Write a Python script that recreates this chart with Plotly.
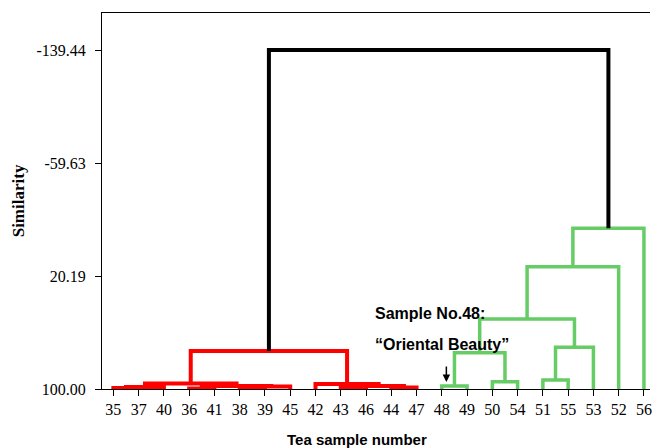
import plotly.graph_objects as go

# ---------------- data ----------------
leaf_labels = ["35", "37", "40", "36", "41", "38", "39", "45", "42", "43", "46",
               "44", "47", "48", "49", "50", "54", "51", "55", "53", "52", "56"]

# merges (children may be leaf labels or earlier merge ids "m<k>")
link_left = ["35", "m0", "36", "38", "m3", "m2", "m1", "43", "44", "m7", "42", "m6",
             "48", "50", "m12", "51", "m15", "m14", "m17", "m18", "m11"]
link_right = ["37", "40", "41", "39", "45", "m4", "m5", "46", "47", "m8", "m9", "m10",
              "49", "54", "m13", "55", "53", "m16", "52", "56", "m19"]
link_height = [99.3, 98.6, 99.6, 99.3, 98.2, 97.9, 96.1, 99.3, 98.9, 97.9, 96.5, 73.2,
               97.9, 94.8, 74.4, 93.6, 70.5, 50.6, 13.6, -13.5, -139.44]
link_group = ["red"] * 12 + ["green"] * 8 + ["root"]

y_tick_vals = [100.00, 20.19, -59.63, -139.44]
y_tick_text = ["100.00", "20.19", "-59.63", "-139.44"]

# ---------------- styles ----------------
group_color = {"red": "#ff0000", "green": "#66cc66", "root": "#000000"}
group_width = {"red": 4, "green": 3.5, "root": 4}
SERIF = "Liberation Serif"
SANS = "Liberation Sans"

# ---------------- build dendrogram geometry ----------------
node_x = {lab: i for i, lab in enumerate(leaf_labels)}
node_h = {lab: 100.0 for lab in leaf_labels}

fig = go.Figure()
for k, (a, b, h, g) in enumerate(zip(link_left, link_right, link_height, link_group)):
    xa, xb = node_x[a], node_x[b]
    ha, hb = node_h[a], node_h[b]
    fig.add_trace(go.Scatter(
        x=[xa, xa, xb, xb], y=[ha, h, h, hb], mode="lines",
        line=dict(color=group_color[g], width=group_width[g]),
        hoverinfo="skip", showlegend=False))
    mid = f"m{k}"
    node_x[mid] = (xa + xb) / 2
    node_h[mid] = h

n = len(leaf_labels)
fig.update_layout(
    width=652, height=448,
    margin=dict(l=102, r=0, t=13, b=59),
    plot_bgcolor="white", paper_bgcolor="white",
    showlegend=False,
)
fig.update_xaxes(
    range=[-0.45, n - 1 + 0.24],
    tickvals=list(range(n)), ticktext=leaf_labels,
    showgrid=False, zeroline=False,
    showline=True, linecolor="black", linewidth=1, mirror=True,
    ticks="outside", ticklen=6, tickcolor="black", tickwidth=1,
    tickfont=dict(family=SERIF, size=16, color="black"),
    ticklabeloverflow="allow",
)
fig.update_yaxes(
    range=[100, -165.6],
    tickvals=y_tick_vals, ticktext=y_tick_text,
    showgrid=False, zeroline=False,
    showline=True, linecolor="black", linewidth=1,
    ticks="outside", ticklen=6, tickcolor="black", tickwidth=1,
    tickfont=dict(family=SERIF, size=16, color="black"),
    ticklabelstandoff=6,
)

# axis titles
fig.add_annotation(text="<b>Tea sample number</b>", xref="paper", yref="paper",
                   x=0.4645, y=-0.134, xanchor="center", yanchor="middle",
                   showarrow=False, font=dict(family=SANS, size=15, color="black"))
fig.add_annotation(text="<b>Similarity</b>", xref="paper", yref="paper",
                   x=-0.1527, y=0.5, xanchor="center", yanchor="middle", textangle=-90,
                   showarrow=False, font=dict(family=SERIF, size=17, color="black"))

# sample 48 annotation
i48 = leaf_labels.index("48")
fig.add_annotation(text="<b>Sample No.48:</b>", x=i48 - 2.72, y=46.5, xref="x", yref="y",
                   xanchor="left", yanchor="middle", showarrow=False,
                   font=dict(family=SANS, size=16, color="black"))
fig.add_annotation(text="<b>\u201cOriental Beauty\u201d</b>", x=i48 - 2.72, y=68.9, xref="x", yref="y",
                   xanchor="left", yanchor="middle", showarrow=False,
                   font=dict(family=SANS, size=16, color="black"))
fig.add_annotation(x=i48 + 0.18, y=95.0, xref="x", yref="y", ax=0, ay=-17,
                   showarrow=True, arrowhead=2, arrowsize=1, arrowwidth=1.5,
                   arrowcolor="black", text="")

fig.write_html("out.html")
